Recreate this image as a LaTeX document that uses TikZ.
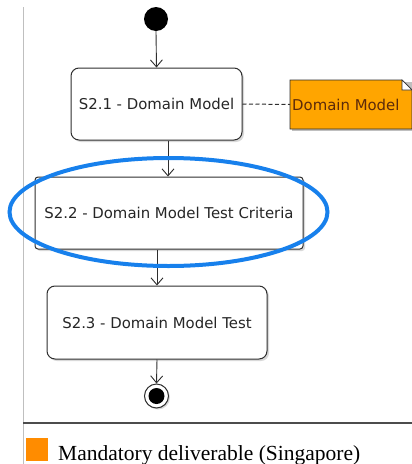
\documentclass[tikz,border=0pt]{standalone}
\usepackage{fontspec}
\setmainfont{Liberation Serif}
\newfontfamily\boxfont{DejaVu Sans}
\usetikzlibrary{arrows.meta,shadows}
\definecolor{noteorange}{HTML}{FFA500}
\definecolor{legendorange}{HTML}{FF8C00}
\definecolor{notetext}{HTML}{5C2A0A}
\definecolor{ringblue}{HTML}{1780EC}
\definecolor{linegrey}{HTML}{2E2E2E}
\tikzset{
  actbox/.style={draw=linegrey, line width=1pt, fill=white, rounded corners=8pt,
    font=\boxfont\fontsize{14.9}{18}\selectfont, text=black!85,
    drop shadow={shadow xshift=2pt, shadow yshift=-2pt, opacity=0.25, fill=black!60}},
  flow/.style={draw=linegrey, line width=0.9pt, -{Straight Barb[length=7pt,width=12pt,line width=0.9pt]}},
}
\begin{document}
\begin{tikzpicture}[x=1pt,y=-1pt]
\useasboundingbox (0,0) rectangle (412,464);
% left frame line
\draw[black!25, line width=0.8pt] (23,7) -- (23,464);
% start node
\fill[black] (156,19) circle (12);
\node[circle, minimum size=24pt, inner sep=0pt] (start) at (156,19) {};
% activity boxes
\node[actbox, minimum width=171pt, minimum height=72pt] (s21) at (156.5,104) {S2.1 - Domain Model};
\node[actbox, rounded corners=3pt, minimum width=268pt, minimum height=72pt] (s22) at (169,213) {S2.2 - Domain Model Test Criteria};
\node[actbox, minimum width=220pt, minimum height=73pt] (s23) at (157,322.5) {S2.3 - Domain Model Test};
% note
\fill[black!25] (292,82) -- (412,82) -- (412,131) -- (292,131) -- cycle;
\draw[linegrey, line width=0.9pt, fill=noteorange] (290,80) -- (402,80) -- (412,90) -- (412,129) -- (290,129) -- cycle;
\draw[linegrey, line width=0.6pt, fill=white] (402,80) -- (402,90) -- (412,90) -- cycle;
\node[anchor=west, inner sep=0pt, font=\boxfont\fontsize{14.9}{18}\selectfont, text=notetext] (note) at (292,104.5) {Domain Model};
% end node
\node[circle, draw=linegrey, line width=1pt, fill=white, minimum size=24pt, inner sep=0pt,
  drop shadow={shadow xshift=1.5pt, shadow yshift=-1.5pt, opacity=0.25, fill=black!60}] (end) at (156.5,396) {};
\fill[black] (end.center) circle (8);
% connectors
\draw[flow] (start.south) -- (s21.north);
\draw[flow] (s21.south -| 168,0) -- (s22.north -| 168,0);
\draw[flow] (s22.south -| 157,0) -- (s23.north -| 157,0);
\draw[flow] (s23.south -| 157,0) -- (end.north);
\draw[linegrey, line width=1pt, dash pattern=on 4pt off 2.5pt] (s21.east) -- (note.west -| 290,0);
% highlight ellipse
\draw[ringblue, line width=4pt] (168.5,212) ellipse (159 and 54);
% legend separator
\draw[black!70, line width=1.3pt] (23,423) -- (412,423);
\fill[legendorange] (26,438) rectangle (48,461);
\node[anchor=base west, inner sep=0pt, font=\fontsize{21.5}{24}\selectfont] (legend) at (58,460) {Mandatory deliverable (Singapore)};
\end{tikzpicture}
\end{document}
